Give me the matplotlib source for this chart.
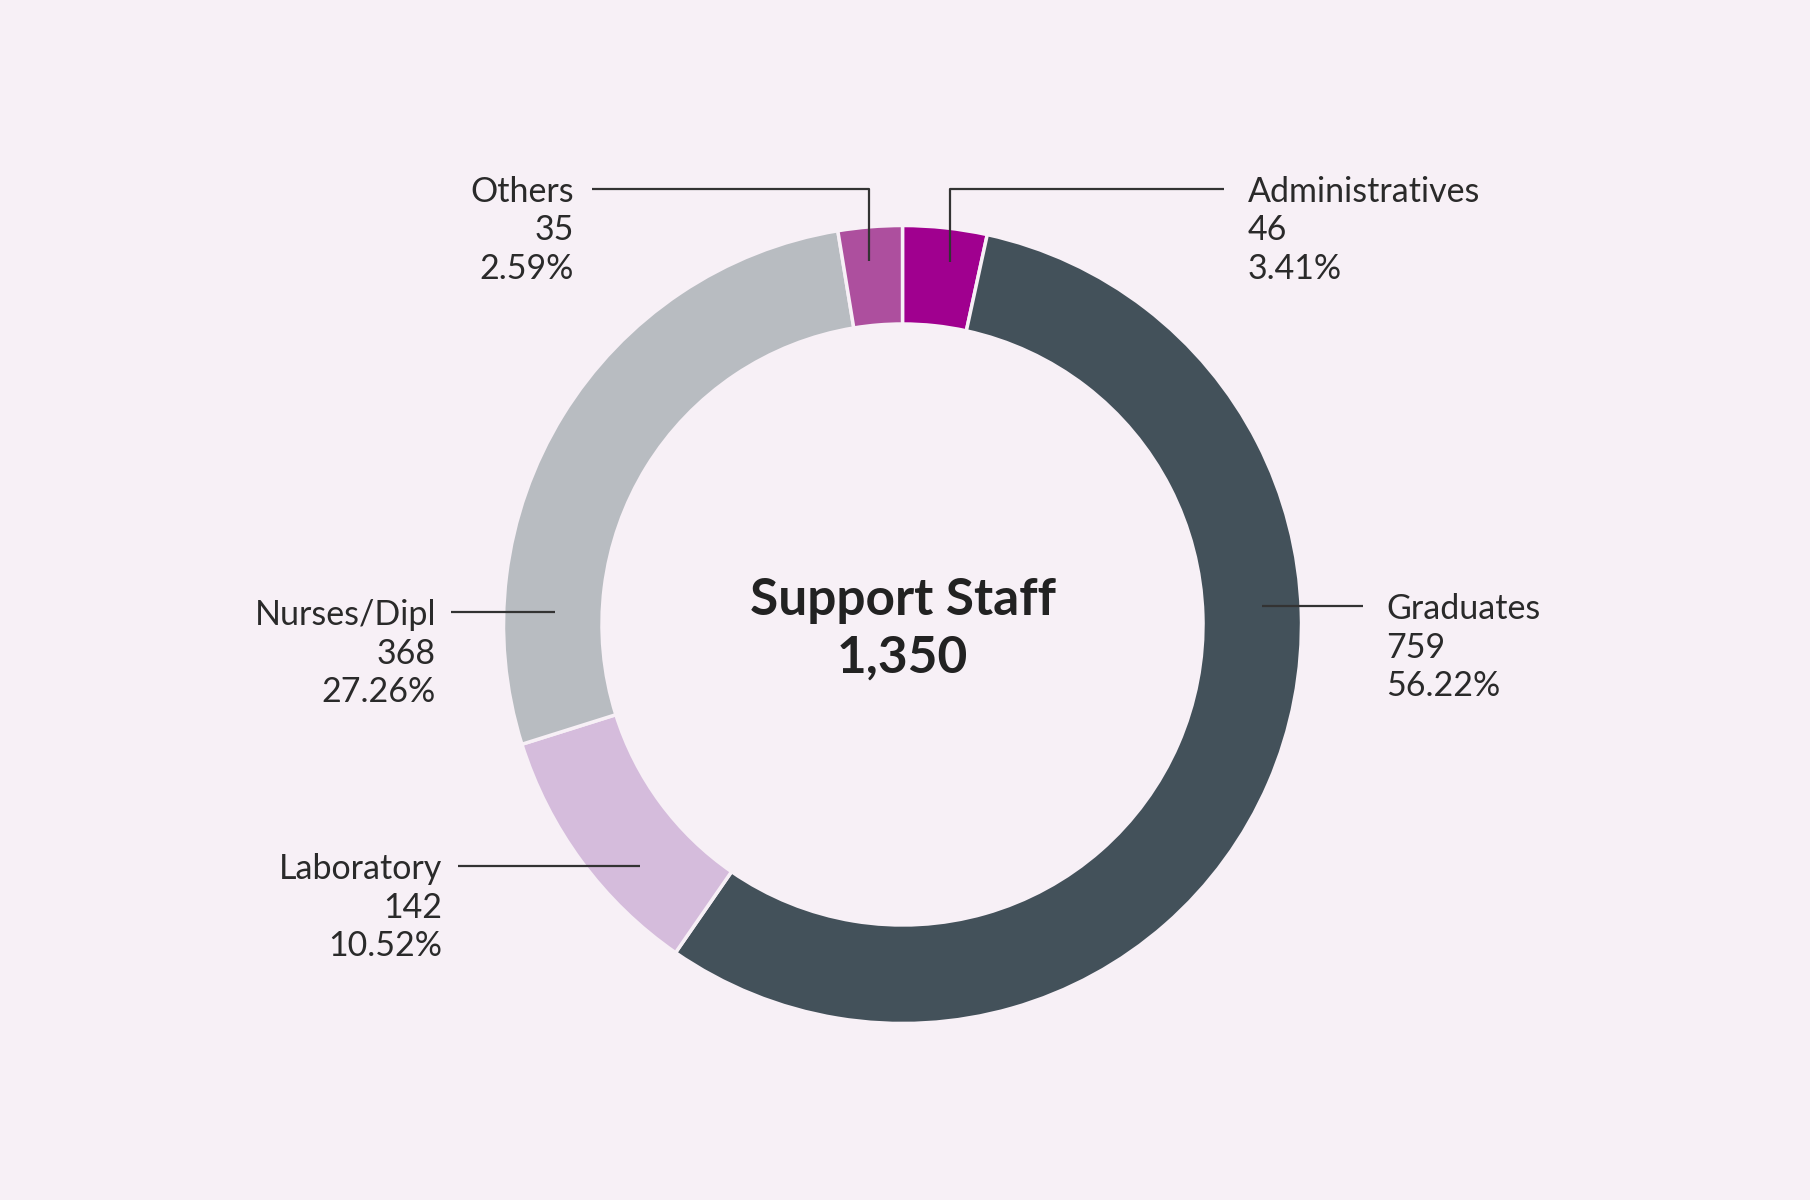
import matplotlib.pyplot as plt

# data
categories = ['Administratives', 'Graduates', 'Laboratory', 'Nurses/Dipl', 'Others']
values = [46, 759, 142, 368, 35]
colors = ['#a0008f', '#43515a', '#d5bcdc', '#b8bcc1', '#ad4f9e']
title = 'Support Staff'

bg = '#f7f0f6'
txt = '#222222'
plt.rcParams['font.family'] = ['Lato', 'DejaVu Sans']

fig = plt.figure(figsize=(18.1, 12), dpi=100, facecolor=bg)
ax = fig.add_axes([0, 0, 1, 1])
ax.set_facecolor(bg)
ax.axis('off')

cx, cy, r = 902.5, 575.5, 399
ax.pie(values, colors=colors, center=(cx, cy), radius=r, startangle=90,
       counterclock=False,
       wedgeprops=dict(width=98.5, edgecolor=bg, linewidth=2.5))
ax.set_xlim(0, 1810)
ax.set_ylim(0, 1200)
ax.set_aspect('equal')

total = sum(values)
ax.text(cx, 599, title, ha='center', va='center', fontsize=37,
        fontweight='bold', color=txt)
ax.text(cx, 542, f'{total:,}', ha='center', va='center', fontsize=37,
        fontweight='bold', color=txt)

# label layout: leader line points, text anchor, alignment
layout = {
    'Administratives': ([(950, 938), (950, 1011), (1224, 1011)], (1248, 1011), 'left'),
    'Graduates': ([(1262, 594), (1363, 594)], (1386, 594), 'left'),
    'Laboratory': ([(639.5, 334), (458, 334)], (442, 334), 'right'),
    'Nurses/Dipl': ([(555, 588), (451, 588)], (436, 588), 'right'),
    'Others': ([(869, 939), (869, 1011), (592, 1011)], (574, 1011), 'right'),
}

for name, val in zip(categories, values):
    pts, (tx, ty), ha = layout[name]
    xs = [p[0] for p in pts]
    ys = [p[1] for p in pts]
    ax.plot(xs, ys, color='#333333', lw=1.6, solid_capstyle='butt')
    lines = [name, f'{val}', f'{val / total * 100:.2f}%']
    for i, s in enumerate(lines):
        ax.text(tx, ty - 3 - i * 38.5, s, ha=ha, va='center', fontsize=24.5,
                fontweight='normal', color='#2a2a2a')

fig.savefig('out.png', dpi=100, facecolor=bg)
